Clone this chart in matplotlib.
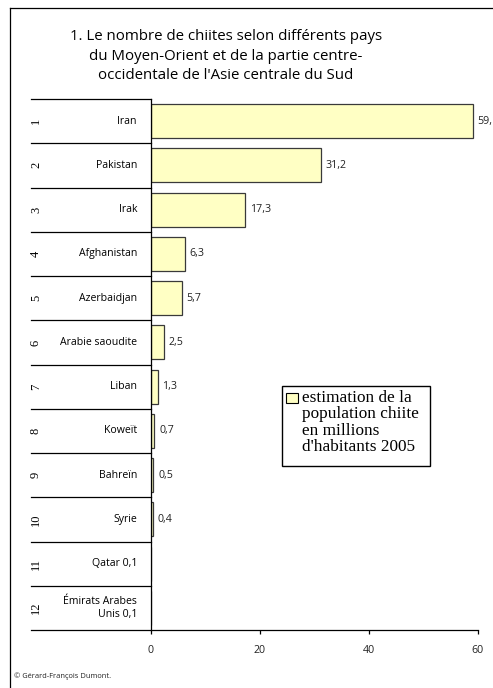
import matplotlib
matplotlib.use("Agg")
import matplotlib.pyplot as plt
from matplotlib.lines import Line2D
from matplotlib.patches import Rectangle

# Données
rangs = [str(i) for i in range(1, 13)]
pays = ["Iran", "Pakistan", "Irak", "Afghanistan", "Azerbaidjan", "Arabie saoudite",
        "Liban", "Koweït", "Bahreïn", "Syrie", "Qatar 0,1", "Émirats Arabes\nUnis 0,1"]
valeurs = [59.1, 31.2, 17.3, 6.3, 5.7, 2.5, 1.3, 0.7, 0.5, 0.4, 0.1, 0.1]
etiquettes = ["59,1", "31,2", "17,3", "6,3", "5,7", "2,5", "1,3", "0,7", "0,5", "0,4", "", ""]
xticks = [0, 20, 40, 60]

titre = ("1. Le nombre de chiites selon différents pays\n"
         "du Moyen-Orient et de la partie centre-\n"
         "occidentale de l'Asie centrale du Sud")
legende = "estimation de la\npopulation chiite\nen millions\nd'habitants 2005"

sans = ["Open Sans", "DejaVu Sans"]
serif = ["Liberation Serif", "DejaVu Serif"]

W, H = 493, 688
fig = plt.figure(figsize=(W / 100, H / 100), dpi=100)
fig.patch.set_facecolor("white")

# zone du graphique (pixels)
x0, x1, ytop, ybot = 150.5, 477.7, 99, 630
ax = fig.add_axes([x0 / W, 1 - ybot / H, (x1 - x0) / W, (ybot - ytop) / H])

y = list(range(len(pays)))
ax.barh(y, valeurs, height=0.77, color="#ffffc4", edgecolor="#3a3a3a", linewidth=0.9)
ax.set_xlim(0, 60)
ax.set_ylim(len(pays) - 0.5, -0.5)

for yi, v, lab in zip(y, valeurs, etiquettes):
    if lab:
        ax.annotate(lab, (v, yi), xytext=(3.5, 0), textcoords="offset points",
                    ha="left", va="center", fontsize=7.7, family=sans,
                    color="#222222", annotation_clip=False)

# colonne de gauche : rangs et noms de pays
xl = (31 - x0) / (x1 - x0)
trans = ax.get_yaxis_transform()
for yi, r, p in zip(y, rangs, pays):
    ax.text((36 - x0) / (x1 - x0), yi, r, rotation=90, ha="center", va="center",
            fontsize=9, family=serif, transform=trans)
    ax.text((137 - x0) / (x1 - x0), yi, p, ha="right", va="center", ma="right",
            fontsize=7.6, family=sans, transform=trans, linespacing=1.25)
for b in [i - 0.5 for i in range(len(pays))]:
    ax.plot([xl, 0], [b, b], color="black", lw=0.9, transform=trans, clip_on=False)
ax.plot([xl, 1], [len(pays) - 0.5] * 2, color="black", lw=0.9, transform=trans,
        clip_on=False)

for s in ["top", "right", "bottom"]:
    ax.spines[s].set_visible(False)
ax.spines["left"].set_linewidth(0.9)
ax.set_yticks([])
ax.set_xticks(xticks)
ax.tick_params(axis="x", direction="out", length=3, width=0.9, pad=8,
               labelsize=7.7, labelcolor="#222222")
for t in ax.get_xticklabels():
    t.set_family(sans)

# légende
fig.add_artist(Rectangle((282 / W, 1 - 466 / H), 148 / W, 80 / H, transform=fig.transFigure,
                         facecolor="white", edgecolor="black", lw=1.0))
fig.add_artist(Rectangle((286 / W, 1 - 403 / H), 11.5 / W, 10 / H, transform=fig.transFigure,
                         facecolor="#ffffc4", edgecolor="black", lw=0.8))
fig.text(301.5 / W, 1 - 390 / H, legende, ha="left", va="top", fontsize=12.4,
         family=serif, linespacing=1.03)

# titre
fig.text(226 / W, 1 - 29 / H, titre, ha="center", va="top", fontsize=10.8,
         family=sans, linespacing=1.42)

# cadre
fig.add_artist(Line2D([10 / W, 1], [1 - 8 / H] * 2, color="black", lw=0.9,
                      transform=fig.transFigure))
fig.add_artist(Line2D([10 / W] * 2, [0, 1 - 8 / H], color="black", lw=0.9,
                      transform=fig.transFigure))

fig.text(14 / W, 1 - 678 / H, "© Gérard-François Dumont.", ha="left", va="baseline",
         fontsize=5.4, family=sans, color="#222222")

fig.savefig("out.png", dpi=100)
